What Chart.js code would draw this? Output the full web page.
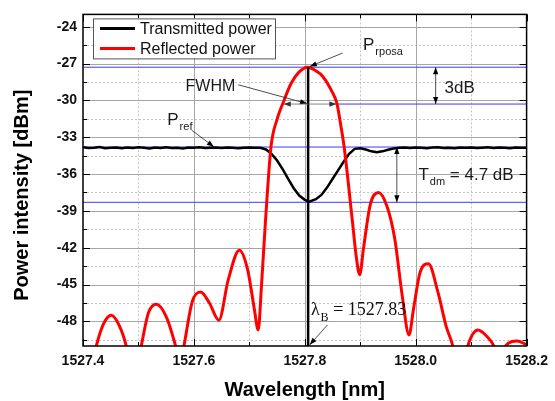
<!DOCTYPE html>
<html>
<head>
<meta charset="utf-8">
<script src="https://cdn.jsdelivr.net/npm/chart.js@4.4.0/dist/chart.umd.min.js"></script>
<style>
html, body { margin: 0; padding: 0; background: #fff; }
canvas { display: block; }
</style>
</head>
<body>
<canvas id="fbgChart" width="555" height="401"></canvas>
<script>
// axis ranges and ticks
const xRange = [1527.4, 1528.2];
const yRange = [-50, -23];
const xTicks = [1527.4, 1527.6, 1527.8, 1528.0, 1528.2];
const xMinor = [1527.5, 1527.7, 1527.9, 1528.1];
const yTicks = [-48, -45, -42, -39, -36, -33, -30, -27, -24];
const yMinor = [-49.5, -46.5, -43.5, -40.5, -37.5, -34.5, -31.5, -28.5, -25.5];

// transmitted power (black)
const transWl = [
  1527.40, 1527.41, 1527.42, 1527.43, 1527.44, 1527.45, 1527.46, 1527.47, 1527.48, 1527.49,
  1527.50, 1527.51, 1527.52, 1527.53, 1527.54, 1527.55, 1527.56, 1527.57, 1527.58, 1527.59,
  1527.60, 1527.61, 1527.62, 1527.63, 1527.64, 1527.65, 1527.66, 1527.67, 1527.68, 1527.69,
  1527.70, 1527.71, 1527.72,
  1527.73, 1527.74, 1527.75, 1527.76, 1527.77, 1527.78, 1527.79, 1527.80, 1527.808, 1527.82,
  1527.83, 1527.84, 1527.85, 1527.86, 1527.87, 1527.88, 1527.89, 1527.90, 1527.91, 1527.92,
  1527.93, 1527.94, 1527.95, 1527.96,
  1527.97, 1527.98, 1527.99, 1528.00, 1528.01, 1528.02, 1528.03, 1528.04, 1528.05, 1528.06,
  1528.07, 1528.08, 1528.09, 1528.10, 1528.11, 1528.12, 1528.13, 1528.14, 1528.15, 1528.16,
  1528.17, 1528.18, 1528.19, 1528.20
];
const transDb = [
  -33.82, -33.88, -33.85, -33.80, -33.90, -33.86, -33.83, -33.89, -33.84, -33.87,
  -33.81, -33.86, -33.91, -33.84, -33.88, -33.82, -33.87, -33.85, -33.92, -33.84,
  -33.86, -33.81, -33.88, -33.85, -33.83, -33.87, -33.84, -33.86, -33.89, -33.85,
  -33.84, -33.86, -33.86,
  -34.0, -34.35, -34.9, -35.6, -36.4, -37.15, -37.75, -38.1, -38.25, -38.05,
  -37.7, -37.1, -36.4, -35.7, -35.0, -34.35, -33.95, -33.9, -34.0, -34.15,
  -34.22, -34.15, -34.02, -33.92,
  -33.86, -33.84, -33.88, -33.83, -33.86, -33.89, -33.84, -33.82, -33.87, -33.85,
  -33.90, -33.84, -33.86, -33.83, -33.88, -33.85, -33.81, -33.87, -33.84, -33.86,
  -33.89, -33.83, -33.85, -33.86
];

// reflected power (red)
const reflWl = [
  1527.400, 1527.412, 1527.424, 1527.437, 1527.451, 1527.465, 1527.478, 1527.491, 1527.505, 1527.518,
  1527.532, 1527.550, 1527.567, 1527.575, 1527.582, 1527.597, 1527.612, 1527.628, 1527.645, 1527.662,
  1527.682, 1527.697, 1527.709, 1527.716, 1527.722, 1527.729, 1527.739, 1527.750, 1527.761, 1527.775,
  1527.789, 1527.805, 1527.820, 1527.832, 1527.850, 1527.858, 1527.864, 1527.871, 1527.886,
  1527.893, 1527.899, 1527.906, 1527.918, 1527.933, 1527.948, 1527.962, 1527.976, 1527.988, 1527.996,
  1528.008, 1528.023, 1528.040, 1528.055, 1528.067, 1528.080, 1528.094, 1528.112, 1528.128, 1528.141,
  1528.152, 1528.162, 1528.183, 1528.200
];
const reflDb = [
  -56, -52.5, -50, -48.2, -47.5, -48.3, -50, -53, -50, -47.3,
  -46.6, -47.6, -50, -51.5, -50, -46.4, -45.6, -46.5, -47.9, -44.6,
  -42.2, -43.8, -47.0, -48.7, -45.0, -39.9, -33.8, -31.54, -30.18, -28.65,
  -27.72, -27.3, -27.6, -28.03, -29.37, -30.26, -31.79, -33.8, -39.9,
  -42.8, -44.2, -42.0, -38.5, -37.5, -38.6, -41.2, -46.0, -49.1, -47.0,
  -44.0, -43.3, -45.6, -48.4, -50, -53, -50, -48.7, -49.2, -50,
  -51.5, -50, -49.6, -49.9
];

// reference levels (blue) and Bragg wavelength
const peakLevel = -27.3;
const halfLevel = -30.3;
const refLevel = -33.8;
const dipLevel = -38.3;
const halfSpan = [1527.762, 1527.857];
const braggWl = 1527.806;

// annotation anchors, in data units
const peakLabelAt = [1527.905, -25.9];
const peakArrow = [[1527.868, -26.15], [1527.809, -27.24]];
const fwhmLabelAt = [1527.585, -29.23];
const fwhmArrow = [[1527.680, -28.73], [1527.804, -30.26]];
const dbArrowX = 1528.036;
const dbLabelAt = [1528.052, -29.37];
const refLabelAt = [1527.552, -32.03];
const refArrow = [[1527.596, -32.43], [1527.636, -33.78]];
const tdmArrowX = 1527.966;
const tdmLabelAt = [1528.005, -36.46];
const braggLabelAt = [1527.811, -47.5];
const braggArrow = [[1527.841, -48.28], [1527.809, -49.9]];

const pts = (xs, ys) => xs.map((v, i) => ({ x: v, y: ys[i] }));

function arrowHead(ctx, a, b) {
  const ang = Math.atan2(b[1] - a[1], b[0] - a[0]);
  const len = 7, w = 2.6;
  ctx.beginPath();
  ctx.moveTo(b[0], b[1]);
  ctx.lineTo(b[0] - len * Math.cos(ang) + w * Math.sin(ang), b[1] - len * Math.sin(ang) - w * Math.cos(ang));
  ctx.lineTo(b[0] - len * Math.cos(ang) - w * Math.sin(ang), b[1] - len * Math.sin(ang) + w * Math.cos(ang));
  ctx.closePath();
  ctx.fill();
}

function arrow(ctx, a, b, both) {
  ctx.beginPath();
  ctx.moveTo(a[0], a[1]);
  ctx.lineTo(b[0], b[1]);
  ctx.stroke();
  arrowHead(ctx, a, b);
  if (both) arrowHead(ctx, b, a);
}

function subText(ctx, at, main, sub, rest, size, family) {
  let x = at[0];
  ctx.font = size + 'px ' + family;
  ctx.fillText(main, x, at[1]);
  x += ctx.measureText(main).width + 1;
  const ss = Math.round(size * 0.65);
  ctx.font = ss + 'px ' + family;
  ctx.fillText(sub, x, at[1] + size * 0.3);
  x += ctx.measureText(sub).width;
  if (rest) {
    ctx.font = size + 'px ' + family;
    ctx.fillText(rest, x, at[1]);
  }
}

const decor = {
  id: 'decor',
  beforeDatasetsDraw(chart) {
    const { ctx, chartArea: a, scales: { x, y } } = chart;
    ctx.save();
    ctx.lineWidth = 1;
    ctx.strokeStyle = '#c4c4c4';
    ctx.setLineDash([2, 2]);
    ctx.beginPath();
    xMinor.forEach(v => { const p = Math.round(x.getPixelForValue(v)) + 0.5; ctx.moveTo(p, a.top); ctx.lineTo(p, a.bottom); });
    yMinor.forEach(v => { const p = Math.round(y.getPixelForValue(v)) + 0.5; ctx.moveTo(a.left, p); ctx.lineTo(a.right, p); });
    ctx.stroke();
    ctx.setLineDash([]);
    ctx.strokeStyle = '#a6a6a6';
    ctx.beginPath();
    xTicks.slice(1, -1).forEach(v => { const p = Math.round(x.getPixelForValue(v)) + 0.5; ctx.moveTo(p, a.top); ctx.lineTo(p, a.bottom); });
    yTicks.forEach(v => { const p = Math.round(y.getPixelForValue(v)) + 0.5; ctx.moveTo(a.left, p); ctx.lineTo(a.right, p); });
    ctx.stroke();
    ctx.restore();
  },
  afterDraw(chart) {
    const { ctx, chartArea: a, scales: { x, y } } = chart;
    const P = v => [x.getPixelForValue(v[0]), y.getPixelForValue(v[1])];
    ctx.save();

    // frame and inward ticks on all four sides
    ctx.strokeStyle = '#000';
    ctx.lineWidth = 1.5;
    ctx.strokeRect(a.left, a.top, a.right - a.left, a.bottom - a.top);
    ctx.lineWidth = 1;
    ctx.beginPath();
    const tickX = (vals, len) => vals.forEach(v => {
      const p = Math.round(x.getPixelForValue(v)) + 0.5;
      ctx.moveTo(p, a.bottom); ctx.lineTo(p, a.bottom - len);
      ctx.moveTo(p, a.top); ctx.lineTo(p, a.top + len);
    });
    const tickY = (vals, len) => vals.forEach(v => {
      const p = Math.round(y.getPixelForValue(v)) + 0.5;
      ctx.moveTo(a.left, p); ctx.lineTo(a.left + len, p);
      ctx.moveTo(a.right, p); ctx.lineTo(a.right - len, p);
    });
    tickX(xTicks, 7); tickX(xMinor, 4);
    tickY(yTicks, 7); tickY(yMinor, 4);
    ctx.stroke();

    // legend box
    const lx = a.left + 10, ly = a.top + 4;
    ctx.fillStyle = '#fff';
    ctx.fillRect(lx, ly, 182, 40);
    ctx.strokeStyle = '#555';
    ctx.strokeRect(lx + 0.5, ly + 0.5, 182, 40);
    chart.data.datasets.slice(0, 2).forEach((ds, i) => {
      const ry = ly + 10 + i * 20;
      ctx.strokeStyle = ds.borderColor;
      ctx.lineWidth = 3;
      ctx.beginPath();
      ctx.moveTo(lx + 7, ry); ctx.lineTo(lx + 42, ry);
      ctx.stroke();
      ctx.fillStyle = '#111';
      ctx.font = '16px "Liberation Sans", Arial, sans-serif';
      ctx.textBaseline = 'middle';
      ctx.fillText(ds.label, lx + 47, ry + 1);
    });

    // annotations
    ctx.textBaseline = 'alphabetic';
    ctx.fillStyle = '#1a1a1a';
    ctx.strokeStyle = '#222';
    ctx.lineWidth = 0.8;
    const sans = '"Liberation Sans", Arial, sans-serif';
    subText(ctx, P(peakLabelAt), 'P', 'rposa', '', 17, sans);
    ctx.fillStyle = '#000';
    arrow(ctx, P(peakArrow[0]), P(peakArrow[1]));

    ctx.fillStyle = '#1a1a1a';
    ctx.font = '16px ' + sans;
    ctx.fillText('FWHM', ...P(fwhmLabelAt));
    ctx.fillStyle = '#000';
    arrow(ctx, P(fwhmArrow[0]), P(fwhmArrow[1]));
    ctx.strokeStyle = '#666';
    ctx.fillStyle = '#333';
    arrow(ctx, P([braggWl, halfLevel]), P([halfSpan[0], halfLevel]));
    arrow(ctx, P([braggWl, halfLevel]), P([halfSpan[1], halfLevel]));

    ctx.strokeStyle = '#222';
    ctx.fillStyle = '#000';
    arrow(ctx, P([dbArrowX, peakLevel]), P([dbArrowX, halfLevel]), true);
    ctx.fillStyle = '#1a1a1a';
    ctx.font = '17px ' + sans;
    ctx.fillText('3dB', ...P(dbLabelAt));

    subText(ctx, P(refLabelAt), 'P', 'ref', '', 17, sans);
    ctx.fillStyle = '#000';
    arrow(ctx, P(refArrow[0]), P(refArrow[1]));

    arrow(ctx, P([tdmArrowX, refLevel]), P([tdmArrowX, dipLevel]), true);
    ctx.fillStyle = '#1a1a1a';
    subText(ctx, P(tdmLabelAt), 'T', 'dm', ' = 4.7 dB', 17, sans);

    ctx.fillStyle = '#111';
    subText(ctx, P(braggLabelAt), 'λ', 'B', ' = 1527.83', 18, '"Liberation Serif", "Times New Roman", serif');
    ctx.fillStyle = '#000';
    arrow(ctx, P(braggArrow[0]), P(braggArrow[1]));

    // axis titles
    ctx.fillStyle = '#000';
    ctx.font = 'bold 20px ' + sans;
    ctx.textAlign = 'center';
    ctx.textBaseline = 'middle';
    ctx.fillText('Wavelength [nm]', (a.left + a.right) / 2, a.bottom + 44);
    ctx.translate(22, (a.top + a.bottom) / 2 + 15);
    ctx.rotate(-Math.PI / 2);
    ctx.fillText('Power intensity [dBm]', 0, 0);
    ctx.restore();
  }
};

const hline = (lvl, from, to) => [{ x: from, y: lvl }, { x: to, y: lvl }];
const blueLine = data => ({
  data, borderColor: '#3a3aff', borderWidth: 1, pointRadius: 0, order: 3, clip: 0
});

new Chart(document.getElementById('fbgChart'), {
  type: 'line',
  data: {
    datasets: [
      {
        label: 'Transmitted power',
        data: pts(transWl, transDb),
        borderColor: '#000000',
        borderWidth: 2.5,
        pointRadius: 0,
        tension: 0,
        order: 2,
        clip: 0
      },
      {
        label: 'Reflected power',
        data: pts(reflWl, reflDb),
        borderColor: '#ff0000',
        borderWidth: 3,
        pointRadius: 0,
        cubicInterpolationMode: 'monotone',
        order: 1,
        clip: 0
      },
      {
        data: [{ x: braggWl, y: peakLevel }, { x: braggWl, y: yRange[0] }],
        borderColor: '#000000',
        borderWidth: 2.5,
        pointRadius: 0,
        order: 0,
        clip: 0
      },
      blueLine(hline(peakLevel, xRange[0], xRange[1])),
      blueLine(hline(halfLevel, halfSpan[1], xRange[1])),
      blueLine(hline(refLevel, xRange[0], xRange[1])),
      blueLine(hline(dipLevel, xRange[0], xRange[1]))
    ]
  },
  options: {
    responsive: false,
    animation: false,
    layout: { padding: { left: 0, right: 24, top: 11, bottom: 0 } },
    scales: {
      x: {
        type: 'linear',
        min: xRange[0],
        max: xRange[1],
        afterBuildTicks: s => { s.ticks = xTicks.map(v => ({ value: v })); },
        afterFit: s => { s.height = 55; },
        grid: { display: false, drawTicks: false },
        border: { display: false },
        ticks: {
          padding: 7,
          color: '#111',
          font: { family: '"Liberation Sans", Arial, sans-serif', size: 14, weight: 'bold' },
          callback: v => v.toFixed(1)
        }
      },
      y: {
        type: 'linear',
        min: yRange[0],
        max: yRange[1],
        afterBuildTicks: s => { s.ticks = yTicks.map(v => ({ value: v })); },
        afterFit: s => { s.width = 83; },
        grid: { display: false, drawTicks: false },
        border: { display: false },
        ticks: {
          padding: 6,
          color: '#111',
          font: { family: '"Liberation Sans", Arial, sans-serif', size: 14, weight: 'bold' },
          callback: v => String(v)
        }
      }
    },
    plugins: {
      legend: { display: false },
      tooltip: { enabled: false }
    }
  },
  plugins: [decor]
});
</script>
</body>
</html>
